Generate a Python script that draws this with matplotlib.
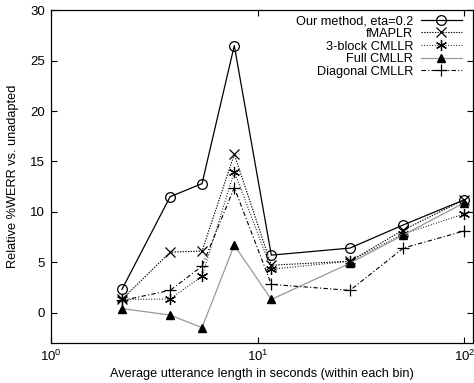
import matplotlib
matplotlib.use("Agg")
import matplotlib.pyplot as plt
from matplotlib.ticker import LogLocator, NullLocator, LogFormatterMathtext

plt.rcParams['font.family'] = ['Liberation Sans', 'DejaVu Sans']
plt.rcParams['mathtext.fontset'] = 'custom'
plt.rcParams['mathtext.rm'] = 'Liberation Sans'

lengths = [2.21, 3.78, 5.39, 7.72, 11.66, 28.0, 50.7, 100.0]
ours = [2.3, 11.5, 12.8, 26.5, 5.7, 6.4, 8.7, 11.2]
fmaplr = [1.3, 6.0, 6.1, 15.7, 4.7, 5.1, 8.2, 11.2]
block3 = [1.3, 1.35, 3.6, 14.0, 4.3, 5.1, 7.8, 9.8]
full = [0.4, -0.25, -1.5, 6.7, 1.3, 4.9, 7.7, 10.9]
diag = [1.2, 2.2, 4.6, 12.4, 2.8, 2.2, 6.4, 8.1]

labels = ["Our method, eta=0.2", "fMAPLR", "3-block CMLLR", "Full CMLLR", "Diagonal CMLLR"]

fig = plt.figure(figsize=(4.74, 3.83), dpi=100)
ax = fig.add_axes([0.107, 0.105, 0.8915, 0.868])

ax.plot(lengths, ours, color='black', lw=0.9, marker='o', ms=7, mfc='none', mew=0.9, label=labels[0])
ax.plot(lengths, fmaplr, color='black', lw=0.8, ls=(0, (1.2, 1.2)), marker='x', ms=7, mew=0.9, label=labels[1])
ax.plot(lengths, block3, color='black', lw=0.8, ls=(0, (0.8, 1.6)), marker=(6, 2, 0), ms=8, mew=0.9, label=labels[2])
ax.plot(lengths, full, color='#999999', lw=0.9, marker='^', ms=6, mfc='black', mec='black', label=labels[3])
ax.plot(lengths, diag, color='black', lw=0.8, ls=(0, (4, 2, 1, 2)), marker='+', ms=8, mew=0.9, label=labels[4])

ax.set_xscale('log')
ax.set_xlim(1, 110.5)
ax.set_ylim(-3, 30)
ax.xaxis.set_major_locator(LogLocator(base=10, numticks=5))
ax.xaxis.set_major_formatter(LogFormatterMathtext())
ax.xaxis.set_minor_locator(NullLocator())
ax.set_yticks([0, 5, 10, 15, 20, 25, 30])

ax.tick_params(direction='in', top=True, right=True, length=4, width=0.8, labelsize=9.5, pad=4)
for s in ax.spines.values():
    s.set_linewidth(0.9)

ax.set_xlabel("Average utterance length in seconds (within each bin)", fontsize=9.2, labelpad=3)
ax.set_ylabel("Relative %WERR vs. unadapted", fontsize=9.2, labelpad=8)

leg = ax.legend(loc='upper right', bbox_to_anchor=(0.994, 1.012), frameon=False, markerfirst=False,
                fontsize=9.2, handlelength=3.2, handletextpad=0.6, labelspacing=0.05,
                borderaxespad=0.3)

fig.savefig("out.png", dpi=100)
